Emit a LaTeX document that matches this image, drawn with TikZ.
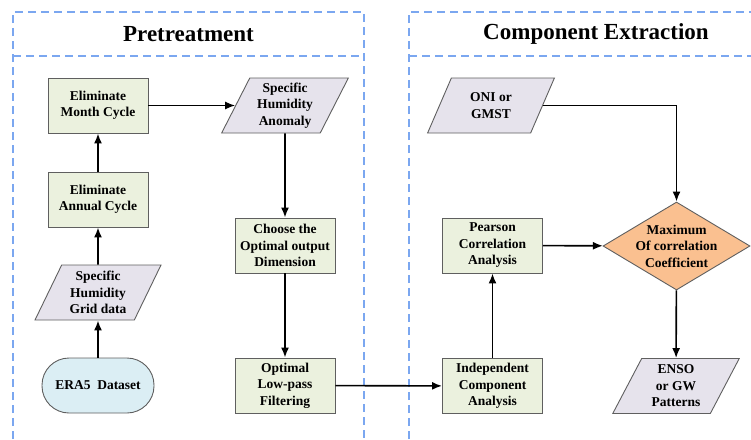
\documentclass[tikz,border=0pt]{standalone}
\usepackage{fontspec}
\setmainfont{Liberation Serif}
\usetikzlibrary{arrows.meta,shapes.geometric,shapes.misc}
\definecolor{greenfill}{HTML}{EBF1DE}
\definecolor{parafill}{HTML}{E6E3EC}
\definecolor{bluefill}{HTML}{DBEEF4}
\definecolor{orangefill}{HTML}{FAC090}
\definecolor{framecol}{HTML}{7BA7F0}
\definecolor{bordercol}{HTML}{5F5F5F}
\tikzset{
  every node/.style={font=\fontsize{13.5}{16.5}\selectfont\bfseries, align=center},
  procbox/.style={draw=bordercol, line width=0.9pt, fill=greenfill, minimum width=100pt, minimum height=55pt, inner sep=1pt},
  databox/.style={trapezium, trapezium left angle=64, trapezium right angle=116, trapezium stretches=true, draw=bordercol, line width=0.9pt, fill=parafill, minimum width=127pt, minimum height=55pt, inner sep=0pt},
  startbox/.style={draw=bordercol, line width=0.9pt, fill=bluefill, rounded corners=27pt, minimum width=112pt, minimum height=55pt},
  decbox/.style={diamond, draw=bordercol, line width=0.9pt, fill=orangefill, minimum width=147pt, minimum height=88pt, inner sep=0pt},
  frameline/.style={draw=framecol, line width=1.3pt, dash pattern=on 8pt off 5pt},
  arr/.style={draw=black, line width=1.6pt, -{Latex[length=10pt,width=8pt]}},
  titletext/.style={font=\fontsize{23}{27}\selectfont\bfseries}
}
\begin{document}
\begin{tikzpicture}[x=1pt,y=-1pt]
\useasboundingbox (0,0) rectangle (751,439);
% frames
\draw[frameline] (13,439) -- (13,12) -- (364,12) -- (364,439);
\draw[frameline] (13,56) -- (364,56);
\draw[frameline] (409,439) -- (409,12) -- (751,12);
\draw[frameline] (409,56) -- (751,56);
\node[titletext] (t1) at (188.5,34) {Pretreatment};
\node[titletext] (t2) at (596,34) {Component Extraction};
% left column
\node[procbox] (month) at (98,105.5) {Eliminate\\Month Cycle};
\node[procbox] (annual) at (98,199.5) {Eliminate\\Annual Cycle};
\node[databox] (grid) at (98,292.5) {Specific\\Humidity\\Grid data};
\node[startbox] (era) at (98,385.5) {ERA5\ \ Dataset};
% middle column
\node[databox] (anom) at (285,105.5) {Specific\\Humidity\\Anomaly};
\node[procbox] (choose) at (285,245.5) {Choose the\\Optimal output\\Dimension};
\node[procbox] (lowpass) at (285,385.5) {Optimal\\Low-pass\\Filtering};
% right section
\node[databox] (oni) at (491,105.5) {ONI or\\GMST};
\node[procbox] (pearson) at (492.5,245.5) {Pearson\\Correlation\\Analysis};
\node[procbox] (ica) at (492.5,386) {Independent\\Component\\Analysis};
\node[decbox] (max) at (676.5,246) {};
\node (maxtext) at (max.center) {Maximum\\Of correlation\\Coefficient};
\node[databox] (enso) at (676,386) {ENSO\\or GW\\Patterns};
% connectors
\draw[arr] (era) -- (grid);
\draw[arr] (grid) -- (annual);
\draw[arr] (annual) -- (month);
\draw[arr] (month) -- (anom);
\draw[arr] (anom) -- (choose);
\draw[arr] (choose) -- (lowpass);
\draw[arr] (lowpass) -- (ica);
\draw[arr] (ica) -- (pearson);
\draw[arr] (pearson) -- (max);
\draw[arr] (oni.east) -| (max.north);
\draw[arr] (max) -- (enso);
\end{tikzpicture}
\end{document}
